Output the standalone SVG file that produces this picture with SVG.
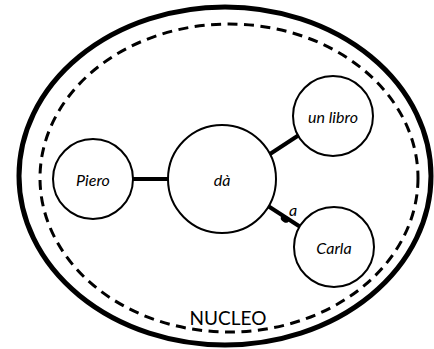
<svg xmlns="http://www.w3.org/2000/svg" width="434" height="349" viewBox="0 0 434 349">
<style>
.node{fill:#fff;stroke:#000;stroke-width:2}
.lbl{font-family:Lato,"Open Sans",sans-serif;font-style:italic;font-size:16px;fill:#000;text-anchor:middle;dominant-baseline:central}
.edge{stroke:#000;stroke-width:4;fill:none}
</style>
<rect width="434" height="349" fill="#fff"/>
<g id="outer">
<ellipse cx="225" cy="176" rx="206" ry="169" fill="none" stroke="#000" stroke-width="5"/>
</g>
<g id="nucleo">
<ellipse cx="229" cy="178" rx="189" ry="154" fill="none" stroke="#000" stroke-width="3" stroke-dasharray="10,6.5"/>
<text x="228" y="317" font-family="Lato,'Open Sans',sans-serif" font-size="19" text-anchor="middle" dominant-baseline="central">NUCLEO</text>
</g>
<g id="connectors">
<line class="edge" x1="270" y1="154" x2="299" y2="135"/>
<line class="edge" x1="133" y1="179" x2="168" y2="179"/>
<line class="edge" x1="268" y1="206" x2="302" y2="228"/>
<ellipse cx="285" cy="219" rx="4.5" ry="3.2" transform="rotate(33 285 219)" fill="#000"/>
<text class="lbl" x="293" y="209" font-size="14">a</text>
</g>
<g id="node-da">
<circle class="node" cx="222" cy="179" r="54" stroke-width="3.2"/>
<text class="lbl" x="222" y="179">dà</text>
</g>
<g id="node-piero">
<circle class="node" cx="93" cy="179" r="40"/>
<text class="lbl" x="93" y="179">Piero</text>
</g>
<g id="node-libro">
<circle class="node" cx="333" cy="116" r="40"/>
<text class="lbl" x="333" y="116">un libro</text>
</g>
<g id="node-carla">
<circle class="node" cx="334" cy="247" r="40"/>
<text class="lbl" x="334" y="247">Carla</text>
</g>
</svg>
